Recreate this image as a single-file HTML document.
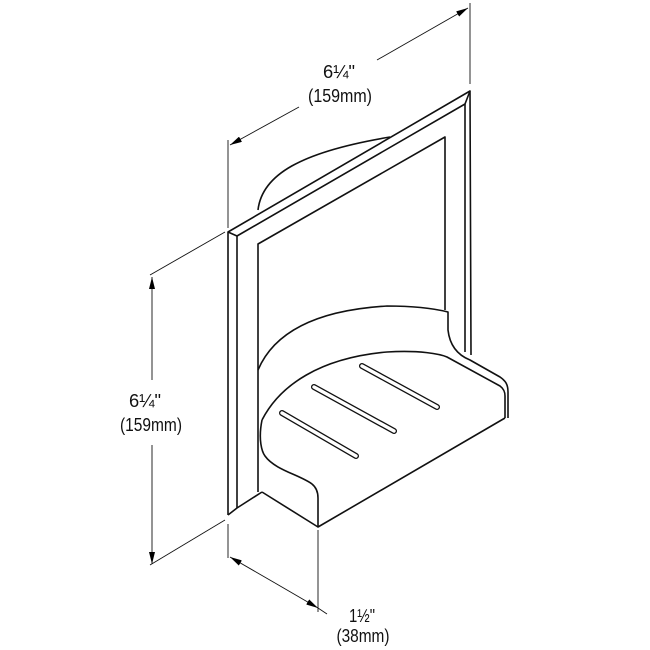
<!DOCTYPE html>
<html><head><style>html,body{margin:0;padding:0;background:#fff;}svg{display:block}</style></head>
<body>
<svg width="650" height="650" viewBox="0 0 650 650" xmlns="http://www.w3.org/2000/svg">
<defs>
<marker id="ar" viewBox="0 0 12 6" refX="12" refY="3" markerWidth="12" markerHeight="6" orient="auto" markerUnits="userSpaceOnUse">
<path d="M0,0 L12,3 L0,6 z" fill="#000"/></marker>
</defs>
<g fill="none" stroke="#111" stroke-width="0.9">
<line x1="470" y1="3" x2="470" y2="84"/>
<line x1="228" y1="140" x2="228" y2="228"/>
<line x1="150" y1="275" x2="225" y2="232"/>
<line x1="150" y1="565" x2="225" y2="520"/>
<line x1="228" y1="524" x2="228" y2="558"/>
<line x1="318" y1="530" x2="318" y2="612"/>
<line x1="299" y1="107" x2="230" y2="145" marker-end="url(#ar)"/>
<line x1="377" y1="60" x2="468" y2="8" marker-end="url(#ar)"/>
<line x1="152" y1="380" x2="152" y2="277" marker-end="url(#ar)"/>
<line x1="152" y1="445" x2="152" y2="564" marker-end="url(#ar)"/>
<line x1="275" y1="583" x2="230" y2="557" marker-end="url(#ar)"/>
<line x1="275" y1="583" x2="318" y2="608" marker-end="url(#ar)"/>
<line x1="318" y1="608" x2="327" y2="614"/>
</g>
<g fill="none" stroke="#111" stroke-width="1.6" stroke-linejoin="round">
<path d="M258,210 C262,175 300,152 390,137"/>
<path d="M228,515 L228,232 L470,91 L471,355"/>
<path d="M228,232 L237,236 L465,104 L470,91"/>
<path d="M237,236 L237,508"/>
<path d="M465,104 L465,352"/>
<path d="M258,492 L258,244 L445,137 L445,310"/>
<path d="M228,515 L237,508 L262,492"/>
<path d="M258,370 C275,330 320,310 387,306 C420,306 440,310 448,312 L448,330 C450,348 460,356 470,360 L500,377 C506,381 508,385 508,392 L508,418"/>
<path d="M262,420 C280,385 320,358 387,352 C420,350 440,354 447,357 L500,386 C504,389 505,392 505,396 L505,418"/>
<path d="M262,420 C258,440 262,452 265,456 C275,470 300,475 312,484 C317,488 318,493 318,498 L318,527 L505,418"/>
<path d="M262,492 L318,527"/>
</g>
<g fill="none" stroke-linecap="round">
<g stroke="#111" stroke-width="6">
<line x1="282" y1="413" x2="356" y2="456"/>
<line x1="314" y1="387" x2="394" y2="431"/>
<line x1="362" y1="366" x2="437" y2="407"/>
</g>
<g stroke="#fff" stroke-width="3.4">
<line x1="282" y1="413" x2="356" y2="456"/>
<line x1="314" y1="387" x2="394" y2="431"/>
<line x1="362" y1="366" x2="437" y2="407"/>
</g>
</g>
<g font-family="'Liberation Sans', sans-serif" font-size="18" fill="#111" text-anchor="middle">
<text x="339" y="78" textLength="32" lengthAdjust="spacingAndGlyphs">6¼"</text>
<text x="340" y="102" textLength="64" lengthAdjust="spacingAndGlyphs">(159mm)</text>
<text x="145" y="407" textLength="32" lengthAdjust="spacingAndGlyphs">6¼"</text>
<text x="151" y="431" textLength="62" lengthAdjust="spacingAndGlyphs">(159mm)</text>
<text x="362" y="622" textLength="26" lengthAdjust="spacingAndGlyphs">1½"</text>
<text x="363" y="642" textLength="53" lengthAdjust="spacingAndGlyphs">(38mm)</text>
</g>
</svg>
</body></html>
